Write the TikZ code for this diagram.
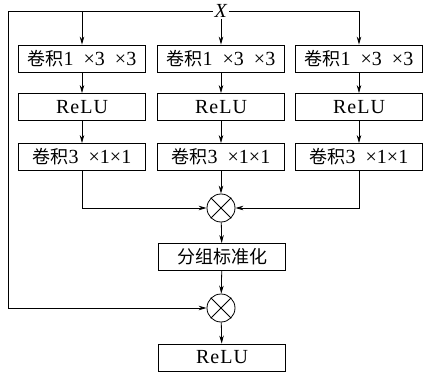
\documentclass[tikz,border=0pt]{standalone}
\usepackage{fontspec}
\setmainfont{Liberation Serif}
\newfontfamily\cjk{Noto Sans CJK SC}
\usetikzlibrary{arrows.meta}

\begin{document}
\begin{tikzpicture}[x=1pt,y=-1pt,line width=0.8pt,
  box/.style={draw,minimum width=127pt,minimum height=27pt,inner sep=0pt,
    font=\fontsize{20}{22}\selectfont},
  mul/.style={draw,circle,minimum size=28pt,inner sep=0pt},
  arr/.style={-{Stealth[length=8pt,width=4.5pt]}}]
\useasboundingbox (0,0) rectangle (424,372);
\node[font=\fontsize{20}{22}\selectfont,inner sep=1pt] (x) at (221,11) {\textit{X}};
\foreach \i/\cx in {1/82,2/221,3/359} {
  \node[box] (conva\i) at (\cx,58.5) {{\cjk\fontsize{18}{21}\selectfont 卷积}1\enspace×3\enspace×3};
  \node[box] (relu\i) at (\cx,107) {R\kern1pt e\kern1pt L\kern1pt U};
  \node[box] (convb\i) at (\cx,157) {{\cjk\fontsize{18}{21}\selectfont 卷积}3\enspace×1×1};
  \draw[arr] (conva\i) -- (relu\i);
  \draw[arr] (relu\i) -- (convb\i);
}
\node[mul] (mul1) at (221,208) {};
\draw (mul1.45) -- (mul1.225) (mul1.135) -- (mul1.315);
\node[box] (gn) at (222,257) {\cjk\fontsize{18}{21}\selectfont 分组标准化};
\node[mul] (mul2) at (221,308) {};
\draw (mul2.45) -- (mul2.225) (mul2.135) -- (mul2.315);
\node[box] (out) at (222,357.5) {R\kern1pt e\kern1pt L\kern1pt U};
\coordinate (tl) at (8,11);
% input branches
\draw (x.west) -- (tl);
\draw[arr] (conva1.north |- x.west) -- (conva1.north);
\draw[arr] (x.south) -- (conva2.north);
\draw[arr] (x.east) -| (conva3.north);
\draw[arr] (tl) |- (mul2.west);
% merge
\draw[arr] (convb1.south) |- (mul1.west);
\draw[arr] (convb2.south) -- (mul1.north);
\draw[arr] (convb3.south) |- (mul1.east);
\draw[arr] (mul1) -- (gn);
\draw[arr] (gn) -- (mul2);
\draw[arr] (mul2) -- (out);
\end{tikzpicture}
\end{document}
